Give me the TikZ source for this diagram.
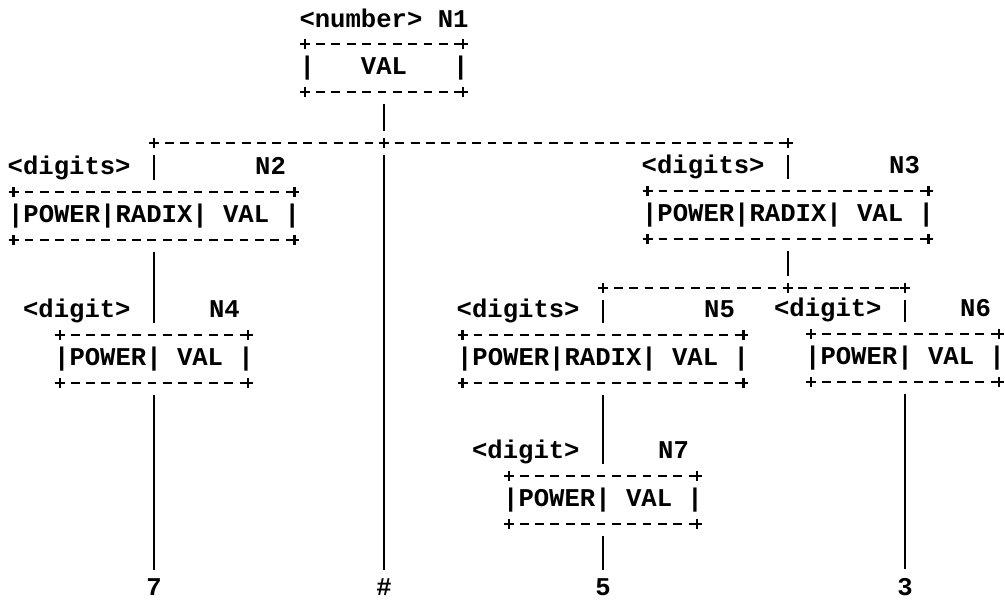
\documentclass[tikz,border=0pt]{standalone}
\usepackage{fontspec}
\newfontfamily\asciifont{Liberation Mono}
\usetikzlibrary{calc}

\begin{document}
\begin{tikzpicture}[
    x=0.5pt, y=-0.5pt,
    every node/.style={font=\asciifont\bfseries\fontsize{12.8}{15}\selectfont},
    attr/.style={inner xsep=-0.3em, inner ysep=0pt, minimum height=23.5pt},
    lbl/.style={anchor=base east, inner sep=0pt},
    leaf/.style={anchor=base, inner sep=1pt},
    stem/.style={line width=1.2pt, shorten <=6pt, shorten >=6pt},
    rail/.style={line width=1.3pt, dash pattern=on 4.4pt off 3.28pt, dash phase=2.2pt},
    plus/.style={line width=1.2pt}]

\useasboundingbox[fill=white] (0,0) rectangle (1005,605);

% attribute boxes
\node[attr] (n1) at (384,68)  {|~~~VAL~~~|};
\node[attr] (n2) at (154,216) {|POWER|RADIX|~VAL~|};
\node[attr] (n3) at (788,215) {|POWER|RADIX|~VAL~|};
\node[attr] (n4) at (154,359) {|POWER|~VAL~|};
\node[attr] (n5) at (603,359) {|POWER|RADIX|~VAL~|};
\node[attr] (n6) at (905,358) {|POWER|~VAL~|};
\node[attr] (n7) at (603,500) {|POWER|~VAL~|};

\foreach \b in {n1,n2,n3,n4,n5,n6,n7}{
  \draw[rail] (\b.north west) -- (\b.north east);
  \draw[rail] (\b.south west) -- (\b.south east);
  \foreach \c in {north west,north east,south west,south east}
    \draw[plus] (\b.\c) +(-5,0) -- +(5,0) +(0,-5) -- +(0,5);
}

% nonterminal and node labels
\node[anchor=base] (n1-lbl) at ($(n1.north)+(0,-17)$) {<number> N1};
\foreach \b/\t/\n in {n2/<digits>/N2, n3/<digits>/N3, n4/<digit>/N4,
                      n5/<digits>/N5, n6/<digit>/N6, n7/<digit>/N7}{
  \node[lbl] (\b-type) at ($(\b.north)+(-23,-18)$) {\t};
  \node[lbl] (\b-name) at ($(\b.north east)+(-8,-18)$) {\n};
}

% junctions
\coordinate (j1) at (384,143);
\coordinate (b1l) at (n2 |- j1);
\coordinate (b1r) at (n3 |- j1);
\coordinate (j3) at (788,288);
\coordinate (b2l) at (n5 |- j3);
\coordinate (b2r) at (n6 |- j3);

% leaves
\node[leaf] (l7) at (154,595) {7};
\node[leaf] (lhash) at (384,595) {\#};
\node[leaf] (l5) at (603,595) {5};
\node[leaf] (l3) at (905,595) {3};

\draw[rail] (b1l) -- (b1r);
\draw[rail] (b2l) -- (b2r);
\foreach \p in {b1l,j1,b1r,b2l,j3,b2r}
  \draw[plus] (\p) +(-5,0) -- +(5,0) +(0,-5) -- +(0,5);

\draw[stem] (n1) -- (j1);
\draw[stem] (b1l) -- (n2);
\draw[stem] (b1r) -- (n3);
\draw[stem] (n3) -- (j3);
\draw[stem] (b2l) -- (n5);
\draw[stem] (b2r) -- (n6);
\draw[stem] (n2) -- (n4);
\draw[stem] (n5) -- (n7);
\draw[stem, shorten >=3pt] (j1) -- (lhash);
\draw[stem, shorten >=3pt] (n4) -- (l7);
\draw[stem, shorten >=3pt] (n7) -- (l5);
\draw[stem, shorten >=3pt] (n6) -- (l3);
\end{tikzpicture}
\end{document}
